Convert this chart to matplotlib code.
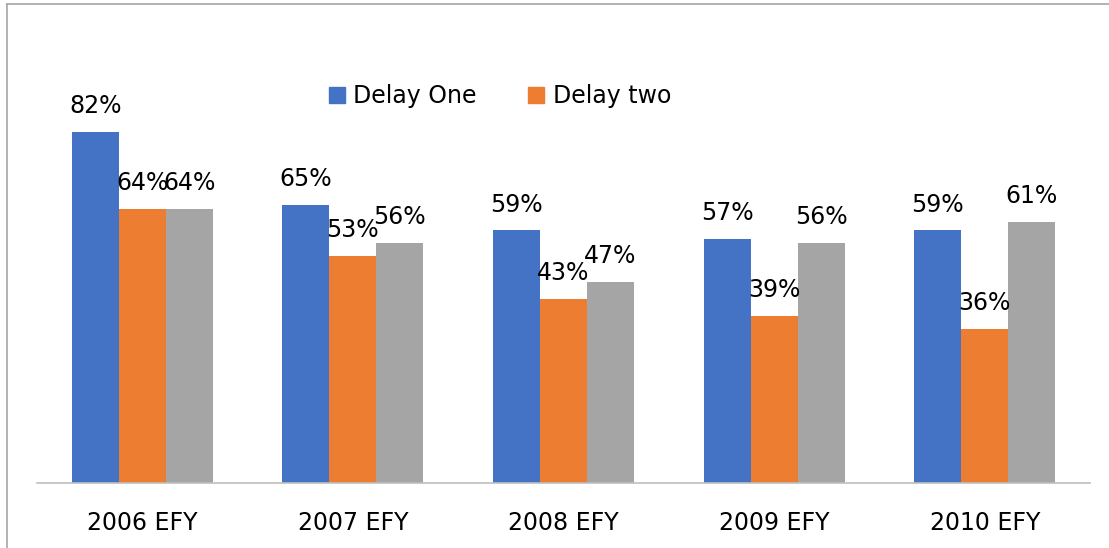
import matplotlib
matplotlib.use("Agg")
import matplotlib.pyplot as plt
from matplotlib.lines import Line2D
import numpy as np

years = ["2006 EFY", "2007 EFY", "2008 EFY", "2009 EFY", "2010 EFY"]
delay_one = [82, 65, 59, 57, 59]
delay_two = [64, 53, 43, 39, 36]
delay_three = [64, 56, 47, 56, 61]
series_names = ["Delay One", "Delay two", None]
colors = ["#4472C4", "#ED7D31", "#A5A5A5"]

W, H = 1109, 548
fig = plt.figure(figsize=(W / 100, H / 100), dpi=100, facecolor="white")
ax = fig.add_axes([37 / W, (H - 483) / H, (1090 - 37) / W, 428 / H])

plt.rcParams["font.family"] = ["DejaVu Sans"]
FS = 17

x = np.arange(len(years))
w = 0.223
handles = []
for i, (vals, name, c) in enumerate(zip([delay_one, delay_two, delay_three], series_names, colors)):
    pos = x + (i - 1) * w
    ax.bar(pos, [v / 100 for v in vals], width=w, color=c, edgecolor="none")
    for p, v in zip(pos, vals):
        ax.annotate(f"{v}%", (p, v / 100), xytext=(0, 10), textcoords="offset points",
                    ha="center", va="bottom", fontsize=FS, color="black")
    if name:
        handles.append(Line2D([], [], marker="s", linestyle="none", markersize=11,
                              markerfacecolor=c, markeredgecolor=c, label=name))

ax.set_xlim(-0.5, len(years) - 0.5)
ax.set_ylim(0, 1.0)
ax.set_xticks(x)
ax.set_xticklabels(years, fontsize=FS)
ax.tick_params(axis="x", length=0, pad=20)
ax.set_yticks([])
for s in ["top", "right", "left"]:
    ax.spines[s].set_visible(False)
ax.spines["bottom"].set_color("#BFBFBF")
ax.spines["bottom"].set_linewidth(1.2)

fig.legend(handles=handles, loc="center", bbox_to_anchor=(498 / W, 1 - 96 / H), ncol=2,
           frameon=False, fontsize=FS, handletextpad=0.2, columnspacing=2.0,
           handlelength=1.0)

# outer chart border (cropped at right and bottom)
fig.add_artist(Line2D([7 / W, 7 / W], [0, 1 - 4 / H], transform=fig.transFigure,
                      color="#A6A6A6", linewidth=1.2))
fig.add_artist(Line2D([7 / W, 1], [1 - 4 / H, 1 - 4 / H], transform=fig.transFigure,
                      color="#A6A6A6", linewidth=1.2))

fig.savefig("out.png", dpi=100, facecolor="white")
